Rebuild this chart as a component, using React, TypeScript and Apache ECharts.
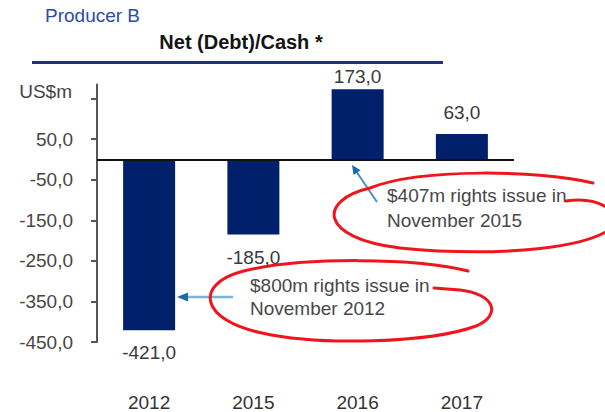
import React, { useEffect, useRef } from "react";
import * as echarts from "echarts";

const categories = ["2012", "2015", "2016", "2017"];
const netDebtCash = [-421, -185, 173, 63];
const yTickValues = [-450, -350, -250, -150, -50, 50, 150];
const yLabelValues = [-450, -350, -250, -150, -50, 50];
const yMin = -450;
const yMax = 185;
const unitLabel = "US$m";
const titleText = "Net (Debt)/Cash *";
const producerText = "Producer B";
const note2015 = ["$407m rights issue in", "November 2015"];
const note2012 = ["$800m rights issue in", "November 2012"];

const labelDistances = [13, 13, 3, 12];

const fmt = (v: number) => v.toFixed(1).replace(".", ",");

const FONT = "'Liberation Sans', Arial, sans-serif";

const ELLIPSE_1 =
  "M 593 183 C 540 170 420 168 370 188 C 318 200 318 238 400 248 C 480 256 580 252 612 228 M 612 211 C 600 201 585 198 566 201";
const ELLIPSE_2 =
  "M 468 271 C 420 258 300 256 240 272 C 195 285 200 320 262 333 C 320 346 430 343 476 326 C 502 315 495 294 460 290 L 434 288";

let registered = false;
function registerShapes() {
  if (registered) return;
  registered = true;
  echarts.graphic.registerShape("redLoop1", echarts.graphic.extendPath(ELLIPSE_1, {}) as any);
  echarts.graphic.registerShape("redLoop2", echarts.graphic.extendPath(ELLIPSE_2, {}) as any);
}

export default function App() {
  const ref = useRef<HTMLDivElement>(null);

  useEffect(() => {
    if (!ref.current) return;
    registerShapes();
    const chart = echarts.init(ref.current, undefined, { renderer: "svg" });

    const red = "#f0141c";
    const arrowLine = "#4a8fc4";
    const arrowHead = "#1a6aa8";
    const noteStyle = { fill: "#484848", font: `19px ${FONT}`, textVerticalAlign: "middle" as const };

    chart.setOption({
      animation: false,
      backgroundColor: "#ffffff",
      grid: { left: 97, right: 91, top: 84.5, bottom: 70, containLabel: false, outerBoundsMode: "none" },
      xAxis: {
        type: "category",
        data: categories,
        axisLine: { show: false, onZero: false },
        axisTick: { show: false },
        axisLabel: { color: "#333", fontSize: 19, fontFamily: FONT, margin: 51 },
      },
      yAxis: {
        type: "value",
        min: yMin,
        max: yMax,
        axisLine: { show: true, lineStyle: { color: "#555", width: 2 } },
        axisTick: { show: true, inside: false, length: 6, lineStyle: { color: "#555", width: 2 }, customValues: yTickValues },
        axisLabel: {
          color: "#4a4540",
          fontSize: 19,
          fontFamily: FONT,
          margin: 24,
          customValues: yLabelValues,
          formatter: (v: number) => fmt(v),
        },
        splitLine: { show: false },
      },
      series: [
        {
          type: "bar",
          barWidth: 52,
          data: netDebtCash.map((v, i) => ({
            value: v,
            label: {
              show: true,
              position: v >= 0 ? "top" : "bottom",
              distance: labelDistances[i],
              formatter: () => fmt(v),
              color: "#3a3a3a",
              fontSize: 19,
              fontFamily: FONT,
            },
          })),
          itemStyle: { color: "#00206b" },
          markLine: {
            silent: true,
            symbol: "none",
            label: { show: false },
            lineStyle: { color: "#111", width: 2, type: "solid" },
            data: [{ yAxis: 0 }],
          },
        },
      ],
      graphic: [
        {
          type: "text",
          left: 45,
          top: 6,
          style: { text: producerText, fill: "#2d4ba6", font: `19px ${FONT}` },
        },
        {
          type: "text",
          x: 241,
          y: 42,
          style: { text: titleText, fill: "#141414", font: `bold 20px ${FONT}`, textAlign: "center", textVerticalAlign: "middle" },
        },
        {
          type: "rect",
          shape: { x: 32, y: 61, width: 411, height: 3 },
          style: { fill: "#1f3185" },
        },
        {
          type: "text",
          x: 72,
          y: 91,
          style: { text: unitLabel, fill: "#444", font: `19px ${FONT}`, textAlign: "right", textVerticalAlign: "middle" },
        },
        {
          type: "line",
          shape: { x1: 377, y1: 202, x2: 357, y2: 172.5 },
          style: { stroke: arrowLine, lineWidth: 2 },
        },
        {
          type: "polygon",
          shape: { points: [[352, 165], [360.5, 170.2], [353.6, 175]] },
          style: { fill: arrowHead },
        },
        {
          type: "line",
          shape: { x1: 233, y1: 297, x2: 186, y2: 297 },
          style: { stroke: "#7fb2d8", lineWidth: 2.5 },
        },
        {
          type: "polygon",
          shape: { points: [[177, 297], [188, 292.5], [188, 301.5]] },
          style: { fill: arrowHead },
        },
        { type: "text", x: 387, y: 195, style: { ...noteStyle, text: note2015[0] } },
        { type: "text", x: 387, y: 220, style: { ...noteStyle, text: note2015[1] } },
        { type: "text", x: 250, y: 285, style: { ...noteStyle, text: note2012[0] } },
        { type: "text", x: 250, y: 308, style: { ...noteStyle, text: note2012[1] } },
        {
          type: "redLoop1",
          x: 0,
          y: 0,
          style: { stroke: red, fill: "none", lineWidth: 3, lineCap: "round" },
        },
        {
          type: "redLoop2",
          x: 0,
          y: 0,
          style: { stroke: red, fill: "none", lineWidth: 3, lineCap: "round" },
        },
      ],
    });

    return () => chart.dispose();
  }, []);

  return (
    <div
      ref={ref}
      style={{ position: "absolute", left: 0, top: 0, width: 605, height: 412 }}
    />
  );
}
